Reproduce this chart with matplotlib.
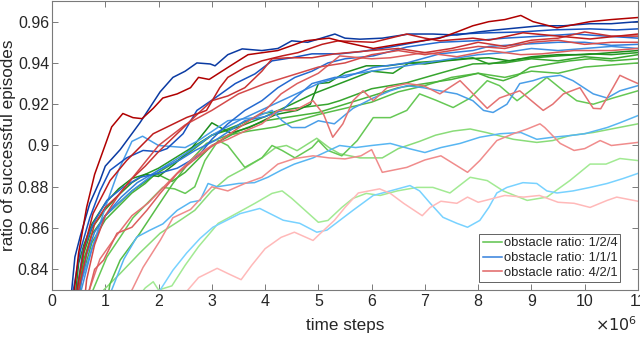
import matplotlib

matplotlib.use("Agg")
import matplotlib.pyplot as plt
from matplotlib.lines import Line2D

# x in units of 1e6 time steps, y = ratio of successful episodes
# ---- obstacle ratio 1/2/4 (green, dark = best run) ----
g1_x = [0.38, 0.45, 0.5, 0.6, 0.75, 1.0, 1.25, 1.5, 1.75, 2.0, 2.3, 2.6, 3.0, 3.35, 3.7, 4.2, 4.6, 4.85, 5.0, 5.2, 5.5, 5.9, 6.3, 6.7, 7.0, 7.4, 7.8, 8.2, 8.6, 9.0, 9.5, 10.0, 10.5, 11.0]
g1_y = [0.81, 0.83, 0.843, 0.852, 0.862, 0.872, 0.879, 0.884, 0.886, 0.885, 0.891, 0.898, 0.911, 0.906, 0.9087, 0.915, 0.917, 0.92, 0.93, 0.9305, 0.9353, 0.9386, 0.9386, 0.94, 0.9395, 0.941, 0.942, 0.9425, 0.941, 0.943, 0.944, 0.944, 0.945, 0.946]
g2_x = [0.4, 0.47, 0.6, 0.75, 1.0, 1.25, 1.5, 1.75, 2.0, 2.5, 3.0, 3.5, 4.0, 4.5, 4.9, 5.4, 5.7, 6.0, 6.4, 6.7, 7.3, 7.9, 8.2, 8.8, 9.5, 10.1, 10.5, 11.0]
g2_y = [0.81, 0.83, 0.848, 0.86, 0.869, 0.876, 0.882, 0.886, 0.889, 0.897, 0.905, 0.909, 0.914, 0.92, 0.925, 0.93, 0.933, 0.936, 0.935, 0.94, 0.941, 0.9425, 0.9395, 0.942, 0.9434, 0.9444, 0.944, 0.945]
g3_x = [0.42, 0.5, 0.6, 0.75, 1.0, 1.5, 2.0, 2.5, 3.0, 3.5, 3.94, 4.56, 5.18, 5.4, 6.0, 6.66, 7.28, 7.9, 8.5, 9.0, 9.5, 10.0, 10.5, 11.0]
g3_y = [0.81, 0.83, 0.845, 0.857, 0.866, 0.878, 0.887, 0.895, 0.905, 0.91, 0.9154, 0.918, 0.92, 0.9217, 0.9275, 0.9304, 0.935, 0.9395, 0.94, 0.942, 0.941, 0.943, 0.942, 0.944]
g4_x = [0.45, 0.55, 0.75, 1.0, 1.5, 1.75, 1.95, 2.25, 2.5, 3.0, 3.5, 4.0, 4.5, 5.0, 5.5, 6.0, 6.5, 7.0, 7.5, 8.0, 8.2, 8.47, 8.73, 8.97, 9.35, 9.72, 10.1, 10.5, 11.0]
g4_y = [0.81, 0.835, 0.853, 0.864, 0.877, 0.8816, 0.8865, 0.8826, 0.887, 0.9, 0.907, 0.912, 0.914, 0.916, 0.92, 0.924, 0.928, 0.93, 0.932, 0.935, 0.933, 0.9314, 0.9338, 0.9378, 0.9395, 0.941, 0.942, 0.941, 0.942]
g6_x = [1.0, 1.09, 1.28, 1.65, 1.97, 2.27, 2.6, 2.9, 3.3, 3.7, 4.2, 4.6, 5.0, 5.5, 6.0, 6.5, 7.0, 7.5, 8.0, 8.5, 9.0, 9.5, 10.0, 10.5, 11.0]
g6_y = [0.82, 0.833, 0.8445, 0.8575, 0.87, 0.8816, 0.8927, 0.901, 0.905, 0.907, 0.909, 0.912, 0.915, 0.918, 0.921, 0.926, 0.929, 0.933, 0.935, 0.933, 0.936, 0.935, 0.938, 0.939, 0.94]
g5_x = [0.7, 0.77, 1.03, 1.28, 1.52, 1.84, 2.08, 2.3, 2.5, 2.68, 2.87, 3.12, 3.3, 3.62, 3.94, 4.13, 4.32, 4.56, 4.88, 5.0, 5.18, 5.44, 5.73, 6.03, 6.35, 6.66, 6.9, 7.2, 7.53, 7.85, 8.17, 8.4, 8.73, 9.0, 9.29, 9.6, 9.85, 10.16, 10.53, 11.0]
g5_y = [0.81, 0.83, 0.846, 0.8556, 0.865, 0.8734, 0.8797, 0.879, 0.8768, 0.88, 0.8927, 0.9024, 0.90, 0.8894, 0.894, 0.90, 0.8976, 0.894, 0.899, 0.9024, 0.8976, 0.895, 0.9024, 0.9135, 0.9135, 0.917, 0.925, 0.922, 0.9184, 0.923, 0.9314, 0.929, 0.9217, 0.927, 0.933, 0.9265, 0.9217, 0.92, 0.923, 0.9265]
g8_x = [0.9, 0.97, 1.28, 1.65, 2.03, 2.4, 2.68, 3.0, 3.3, 3.62, 3.94, 4.2, 4.4, 4.6, 4.97, 5.2, 5.4, 5.78, 6.2, 6.5, 6.9, 7.2, 7.53, 7.85, 8.15, 8.66, 9.1, 9.4, 9.72, 10.16, 10.5, 11.0]
g8_y = [0.82, 0.83, 0.838, 0.848, 0.8575, 0.8637, 0.8686, 0.878, 0.8846, 0.889, 0.894, 0.899, 0.90, 0.8975, 0.9035, 0.899, 0.896, 0.894, 0.894, 0.8985, 0.902, 0.905, 0.907, 0.908, 0.9063, 0.903, 0.9015, 0.9024, 0.9048, 0.9063, 0.908, 0.9105]
g9_x = [1.6, 1.75, 1.9, 2.0, 2.25, 2.5, 2.75, 3.12, 3.5, 3.81, 4.13, 4.32, 4.5, 4.75, 5.0, 5.18, 5.44, 5.65, 5.9, 6.16, 6.48, 6.85, 7.15, 7.47, 7.85, 8.17, 8.47, 8.92, 9.29, 9.72, 10.1, 10.4, 10.66, 11.0]
g9_y = [0.826, 0.831, 0.834, 0.83, 0.832, 0.842, 0.851, 0.8623, 0.8676, 0.872, 0.8768, 0.878, 0.8744, 0.8686, 0.8628, 0.8637, 0.870, 0.8744, 0.8768, 0.8758, 0.878, 0.8797, 0.8797, 0.877, 0.8846, 0.883, 0.878, 0.8734, 0.875, 0.883, 0.891, 0.891, 0.8937, 0.8927]

# ---- obstacle ratio 1/1/1 (blue) ----
b1_x = [0.3, 0.37, 0.43, 0.53, 0.71, 0.9, 1.0, 1.28, 1.65, 2.03, 2.27, 2.5, 2.72, 2.97, 3.06, 3.3, 3.57, 3.94, 4.24, 4.5, 4.8, 5.31, 5.5, 5.78, 6.2, 6.7, 7.15, 7.6, 8.0, 8.35, 8.75, 9.16, 9.6, 10.1, 10.5, 11.0]
b1_y = [0.81, 0.83, 0.846, 0.856, 0.872, 0.883, 0.89, 0.898, 0.911, 0.926, 0.933, 0.936, 0.94, 0.9395, 0.9386, 0.944, 0.9468, 0.946, 0.947, 0.9507, 0.95, 0.954, 0.952, 0.9515, 0.952, 0.954, 0.954, 0.9535, 0.955, 0.956, 0.957, 0.958, 0.958, 0.959, 0.959, 0.96]
b2_x = [0.35, 0.4, 0.53, 0.71, 0.9, 1.09, 1.4, 1.71, 2.0, 2.16, 2.46, 2.72, 3.06, 3.44, 3.81, 4.13, 4.5, 4.88, 5.4, 5.8, 6.35, 6.97, 7.6, 8.2, 8.8, 9.4, 10.1, 10.6, 11.0]
b2_y = [0.81, 0.83, 0.849, 0.865, 0.878, 0.888, 0.894, 0.8976, 0.897, 0.8985, 0.9057, 0.917, 0.923, 0.93, 0.9347, 0.941, 0.9425, 0.9444, 0.9444, 0.9455, 0.9477, 0.9507, 0.954, 0.9546, 0.955, 0.956, 0.9565, 0.956, 0.9565]
b3_x = [0.42, 0.47, 0.58, 0.77, 1.03, 1.33, 1.65, 2.0, 2.35, 2.6, 2.78, 3.0, 3.3, 3.62, 3.94, 4.24, 4.56, 4.88, 5.18, 5.5, 6.03, 6.66, 7.28, 7.9, 8.5, 9.2, 9.8, 10.4, 11.0]
b3_y = [0.81, 0.83, 0.849, 0.862, 0.8734, 0.8797, 0.8846, 0.8865, 0.889, 0.8927, 0.896, 0.903, 0.9105, 0.917, 0.9217, 0.928, 0.933, 0.936, 0.94, 0.942, 0.9434, 0.9477, 0.95, 0.9507, 0.952, 0.953, 0.954, 0.953, 0.952]
b4_x = [0.45, 0.52, 0.65, 0.8, 1.0, 1.3, 1.6, 2.0, 2.4, 2.68, 3.06, 3.62, 4.0, 4.32, 4.56, 4.88, 5.31, 5.5, 6.03, 6.66, 7.28, 7.9, 8.2, 8.8, 9.5, 10.0, 10.5, 11.0]
b4_y = [0.81, 0.83, 0.847, 0.858, 0.866, 0.875, 0.882, 0.888, 0.893, 0.8975, 0.9024, 0.912, 0.914, 0.917, 0.923, 0.93, 0.933, 0.933, 0.9378, 0.94, 0.9444, 0.946, 0.948, 0.949, 0.95, 0.95, 0.9485, 0.949]
b6_x = [0.48, 0.55, 0.75, 1.0, 1.5, 2.0, 2.5, 3.0, 3.5, 4.0, 4.5, 5.0, 5.5, 6.0, 6.5, 7.0, 7.5, 8.0, 8.5, 9.0, 9.5, 10.0, 10.5, 11.0]
b6_y = [0.81, 0.83, 0.85, 0.866, 0.878, 0.888, 0.896, 0.905, 0.912, 0.918, 0.924, 0.93, 0.934, 0.936, 0.938, 0.94, 0.942, 0.944, 0.945, 0.947, 0.946, 0.947, 0.948, 0.947]
b5_x = [0.45, 0.5, 0.75, 1.0, 1.25, 1.5, 1.7, 2.0, 2.5, 2.75, 3.3, 3.8, 4.13, 4.32, 4.5, 4.75, 5.0, 5.3, 5.65, 6.03, 6.35, 6.66, 6.97, 7.28, 7.6, 7.9, 8.1, 8.28, 8.54, 8.78, 9.03, 9.22, 9.54, 9.78, 10.16, 10.42, 10.66, 11.0]
b5_y = [0.81, 0.83, 0.85, 0.87, 0.888, 0.902, 0.9045, 0.90, 0.899, 0.9024, 0.912, 0.9135, 0.917, 0.912, 0.9087, 0.9087, 0.912, 0.9105, 0.918, 0.923, 0.9265, 0.929, 0.928, 0.9265, 0.925, 0.9217, 0.917, 0.916, 0.92, 0.93, 0.9314, 0.933, 0.934, 0.9314, 0.925, 0.923, 0.9265, 0.929]
b8_x = [1.05, 1.12, 1.35, 1.59, 1.84, 2.08, 2.35, 2.6, 2.78, 2.93, 3.1, 3.5, 3.8, 4.05, 4.3, 4.55, 4.9, 5.2, 5.4, 5.7, 6.0, 6.35, 6.7, 7.0, 7.3, 7.66, 8.03, 8.41, 8.8, 9.1, 9.4, 9.72, 10.0, 10.42, 10.66, 11.0]
b8_y = [0.82, 0.83, 0.845, 0.8556, 0.859, 0.862, 0.8686, 0.8725, 0.8734, 0.8816, 0.88, 0.8816, 0.882, 0.8846, 0.888, 0.891, 0.894, 0.8976, 0.90, 0.899, 0.90, 0.901, 0.8985, 0.8966, 0.899, 0.901, 0.904, 0.9057, 0.9063, 0.903, 0.904, 0.9048, 0.9057, 0.9087, 0.911, 0.9145]
b9_x = [1.9, 2.03, 2.27, 2.53, 2.78, 3.02, 3.53, 3.9, 4.34, 4.65, 4.97, 5.16, 5.4, 5.65, 6.03, 6.35, 6.72, 6.9, 7.1, 7.34, 7.6, 7.8, 8.03, 8.2, 8.35, 8.54, 8.84, 9.1, 9.29, 9.48, 9.78, 10.1, 10.42, 10.72, 11.0]
b9_y = [0.82, 0.83, 0.8396, 0.848, 0.855, 0.8604, 0.867, 0.8695, 0.8638, 0.8623, 0.858, 0.859, 0.8637, 0.8686, 0.8758, 0.878, 0.8806, 0.878, 0.872, 0.8652, 0.8623, 0.8604, 0.8637, 0.870, 0.877, 0.8797, 0.882, 0.8816, 0.878, 0.877, 0.878, 0.8797, 0.8816, 0.884, 0.8865]

# ---- obstacle ratio 4/2/1 (red) ----
r1_x = [0.38, 0.42, 0.5, 0.65, 0.8, 0.96, 1.12, 1.33, 1.52, 1.69, 1.9, 2.08, 2.35, 2.6, 2.75, 2.95, 3.3, 3.68, 4.24, 4.75, 5.2, 5.5, 6.03, 6.5, 7.28, 7.6, 7.9, 8.2, 8.5, 8.8, 9.03, 9.48, 10.1, 10.5, 11.0]
r1_y = [0.81, 0.83, 0.848, 0.870, 0.886, 0.8975, 0.909, 0.9155, 0.9135, 0.913, 0.918, 0.923, 0.925, 0.928, 0.933, 0.932, 0.9378, 0.944, 0.946, 0.9507, 0.952, 0.950, 0.947, 0.949, 0.952, 0.955, 0.958, 0.96, 0.961, 0.963, 0.96, 0.957, 0.96, 0.961, 0.962]
r2_x = [0.43, 0.47, 0.6, 0.77, 1.09, 1.4, 1.9, 2.53, 2.9, 3.15, 3.3, 3.62, 3.94, 4.32, 4.62, 5.07, 5.37, 6.03, 6.66, 7.0, 7.28, 7.9, 8.2, 8.84, 9.5, 10.1, 11.0]
r2_y = [0.81, 0.83, 0.85, 0.867, 0.883, 0.8927, 0.9057, 0.9136, 0.917, 0.928, 0.933, 0.9378, 0.941, 0.9434, 0.945, 0.949, 0.9507, 0.95, 0.954, 0.952, 0.9507, 0.952, 0.951, 0.9546, 0.953, 0.9516, 0.954]
r3_x = [0.47, 0.5, 0.65, 0.8, 1.0, 1.25, 1.5, 1.75, 2.0, 2.6, 3.0, 3.3, 3.62, 3.94, 4.13, 4.43, 4.88, 5.31, 6.0, 6.5, 7.0, 7.5, 8.0, 8.5, 9.0, 9.5, 10.0, 10.5, 11.0]
r3_y = [0.81, 0.83, 0.848, 0.862, 0.87, 0.876, 0.884, 0.89, 0.897, 0.912, 0.9217, 0.924, 0.928, 0.936, 0.942, 0.9425, 0.9425, 0.9444, 0.946, 0.947, 0.945, 0.947, 0.95, 0.948, 0.951, 0.952, 0.955, 0.953, 0.953]
r4_x = [0.55, 0.65, 0.8, 1.0, 1.25, 1.5, 2.0, 2.5, 3.0, 3.5, 4.0, 4.5, 5.0, 5.5, 6.0, 6.5, 7.0, 7.5, 8.0, 8.5, 9.0, 9.5, 10.0, 10.5, 11.0]
r4_y = [0.81, 0.835, 0.852, 0.866, 0.876, 0.884, 0.9, 0.91, 0.917, 0.925, 0.93, 0.934, 0.938, 0.94, 0.944, 0.946, 0.944, 0.946, 0.948, 0.947, 0.95, 0.951, 0.949, 0.95, 0.95]
r7_x = [0.6, 0.8, 0.97, 1.22, 1.5, 1.78, 2.03, 2.35, 2.65, 2.97, 3.3, 3.7, 4.0, 4.3, 4.6, 5.0, 5.4, 6.0, 6.35, 7.0, 7.6, 8.2, 8.8, 9.2, 9.8, 10.5, 11.0]
r7_y = [0.82, 0.84, 0.8445, 0.8575, 0.8604, 0.8686, 0.8768, 0.8864, 0.8927, 0.899, 0.905, 0.912, 0.917, 0.925, 0.93, 0.935, 0.9434, 0.942, 0.9425, 0.945, 0.943, 0.946, 0.944, 0.9444, 0.946, 0.946, 0.947]
r6_x = [0.7, 0.9, 1.2, 1.5, 1.8, 2.1, 2.4, 2.7, 3.0, 3.3, 3.62, 3.94, 4.24, 4.56, 4.9, 5.1, 5.27, 5.46, 5.65, 5.84, 6.03, 6.29, 6.66, 6.97, 7.28, 7.66, 8.03, 8.17, 8.4, 8.78, 9.0, 9.22, 9.4, 9.6, 9.91, 10.16, 10.3, 10.53, 10.66, 10.8, 11.0]
r6_y = [0.83, 0.845, 0.856, 0.866, 0.872, 0.88, 0.888, 0.895, 0.9, 0.903, 0.907, 0.9105, 0.917, 0.917, 0.9217, 0.915, 0.904, 0.9105, 0.9217, 0.9265, 0.9217, 0.928, 0.93, 0.929, 0.925, 0.9314, 0.9217, 0.918, 0.923, 0.9265, 0.9217, 0.917, 0.92, 0.925, 0.928, 0.918, 0.9178, 0.928, 0.934, 0.9323, 0.93]
r8_x = [1.4, 1.52, 1.71, 2.03, 2.27, 2.6, 3.0, 3.3, 3.62, 3.94, 4.24, 4.56, 4.9, 5.2, 5.5, 5.8, 6.0, 6.2, 6.66, 7.0, 7.3, 7.55, 7.8, 8.03, 8.35, 8.66, 8.92, 9.16, 9.25, 9.54, 9.8, 10.0, 10.29, 10.5, 11.0]
r8_y = [0.825, 0.831, 0.841, 0.854, 0.865, 0.869, 0.88, 0.878, 0.8816, 0.8846, 0.891, 0.8937, 0.895, 0.894, 0.8935, 0.895, 0.898, 0.887, 0.8894, 0.893, 0.895, 0.891, 0.887, 0.8927, 0.9024, 0.9057, 0.908, 0.9105, 0.9087, 0.901, 0.8976, 0.8985, 0.9024, 0.90, 0.9015]
r9_x = [2.45, 2.55, 2.75, 3.1, 3.3, 3.55, 3.75, 4.0, 4.3, 4.55, 4.9, 5.0, 5.3, 5.5, 5.75, 6.15, 6.35, 6.6, 6.95, 7.1, 7.3, 7.6, 7.8, 8.0, 8.5, 8.85, 9.15, 9.5, 9.8, 10.1, 10.42, 10.6, 11.0]
r9_y = [0.825, 0.83, 0.836, 0.8405, 0.838, 0.835, 0.842, 0.85, 0.8555, 0.858, 0.854, 0.8565, 0.8637, 0.870, 0.877, 0.879, 0.8768, 0.872, 0.866, 0.870, 0.873, 0.872, 0.875, 0.8725, 0.8758, 0.875, 0.8758, 0.8725, 0.872, 0.870, 0.8734, 0.875, 0.873]

X_TICKS = list(range(0, 12))
Y_TICKS = [0.84, 0.86, 0.88, 0.9, 0.92, 0.94, 0.96]
LEGEND_LABELS = ["obstacle ratio: 1/2/4", "obstacle ratio: 1/1/1", "obstacle ratio: 4/2/1"]

plt.rcParams["font.family"] = ["Liberation Sans", "DejaVu Sans"]
TEXT = "#262626"
AXIS = "#7a7a7a"

green_runs = [(g9_x, g9_y, "#a2ea93"), (g8_x, g8_y, "#8adc79"), (g5_x, g5_y, "#66c855"),
              (g6_x, g6_y, "#58bd48"), (g4_x, g4_y, "#48b23a"), (g3_x, g3_y, "#37a52e"),
              (g2_x, g2_y, "#289a24"), (g1_x, g1_y, "#1c8c1c")]
blue_runs = [(b9_x, b9_y, "#78d2ff"), (b8_x, b8_y, "#58b6f2"), (b5_x, b5_y, "#4a9ee8"),
             (b6_x, b6_y, "#4090e2"), (b4_x, b4_y, "#3380dc"), (b3_x, b3_y, "#256ad0"),
             (b2_x, b2_y, "#1752bf"), (b1_x, b1_y, "#0a3aa2")]
red_runs = [(r9_x, r9_y, "#ffb9b9"), (r8_x, r8_y, "#f08c8c"), (r6_x, r6_y, "#e47272"),
            (r7_x, r7_y, "#dc5e5e"), (r4_x, r4_y, "#d44a4a"), (r3_x, r3_y, "#c93434"),
            (r2_x, r2_y, "#be1c1c"), (r1_x, r1_y, "#b00000")]

fig = plt.figure(figsize=(6.4, 3.37), dpi=100)
ax = fig.add_axes([52 / 640, 47 / 337, 586 / 640, 289 / 337])

for runs in (green_runs, blue_runs, red_runs):
    for xs, ys, color in runs:
        ax.plot(xs, ys, color=color, linewidth=1.1, solid_joinstyle="round")

ax.set_xlim(0, 11)
ax.set_ylim(0.83, 0.97)
ax.set_xticks(X_TICKS)
ax.set_xticklabels([str(t) for t in X_TICKS])
ax.set_yticks(Y_TICKS)
ax.set_yticklabels([f"{t:g}" for t in Y_TICKS])
ax.tick_params(direction="in", length=4.3, width=0.7, color=AXIS, labelcolor=TEXT,
               labelsize=11.5, top=True, right=True)
ax.tick_params(axis="x", pad=3)
ax.tick_params(axis="y", pad=2)
for spine in ax.spines.values():
    spine.set_color(AXIS)
    spine.set_linewidth(0.8)

ax.set_xlabel("time steps", fontsize=12.3, color=TEXT, va="top")
ax.xaxis.set_label_coords(0.5, -0.097)
ax.set_ylabel("ratio of successful episodes", fontsize=12.3, color=TEXT)
ax.yaxis.set_label_coords(-0.062, 0.5)
fig.text(0.962, 0.008, r"$\times10^{6}$", fontsize=11.5, color=TEXT, ha="center", va="bottom")

handles = [Line2D([], [], color=c, linewidth=1.1) for c in ("#5cc24c", "#3380dc", "#e06464")]
leg = ax.legend(handles, LEGEND_LABELS, loc="lower right", bbox_to_anchor=(0.97, 0.027),
                fontsize=9.4, frameon=True, fancybox=False, handlelength=1.5,
                handletextpad=0.1, borderpad=0.25, labelspacing=0.2, borderaxespad=0)
leg.get_frame().set_edgecolor("#3a3a3a")
leg.get_frame().set_linewidth(0.7)
for txt in leg.get_texts():
    txt.set_color(TEXT)

fig.savefig("out.png", dpi=100)
